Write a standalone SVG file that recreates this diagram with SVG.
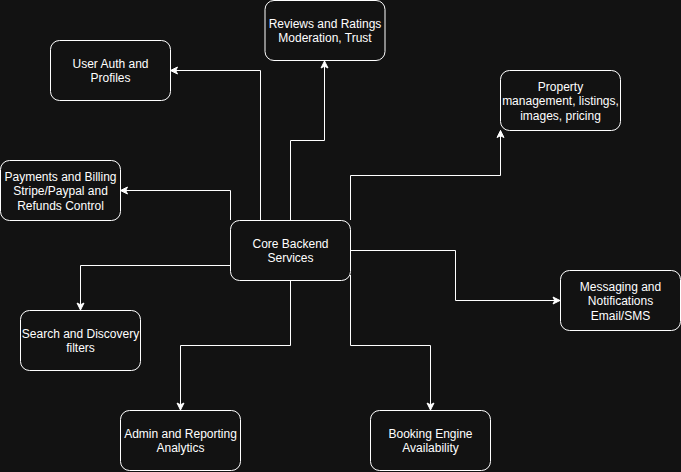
<svg xmlns="http://www.w3.org/2000/svg" width="681" height="472" viewBox="0 0 681 472">
<style>
.box{fill:#121212;stroke:#ffffff;stroke-width:1}
.lbl{font-family:"Liberation Sans",Arial,sans-serif;font-size:12px;fill:#ffffff;text-anchor:middle}
.edge{fill:none;stroke:#ffffff;stroke-width:1;marker-end:url(#arr)}
</style>
<defs>
<marker id="arr" markerUnits="userSpaceOnUse" markerWidth="10" markerHeight="10" viewBox="0 0 10 10" refX="8" refY="5" orient="auto">
<path d="M1,1.5 L8,5 L1,8.5 L2.75,5 Z" fill="#ffffff" stroke="#ffffff" stroke-width="1"/>
</marker>
</defs>
<rect x="0" y="0" width="681" height="472" fill="#121212"/>
<g id="connectors">
<path class="edge" d="M260.5,220 V70.5 H170.5"/>
<path class="edge" d="M290.5,220 V140.5 H324.5 V61"/>
<path class="edge" d="M230.5,220 V190.5 H120.5"/>
<path class="edge" d="M350.5,220 V175.5 H500.5 V130.5"/>
<path class="edge" d="M350,250.5 H455.5 V300.5 H560"/>
<path class="edge" d="M230,265.5 H80.5 V310"/>
<path class="edge" d="M290.5,280 V345.5 H180.5 V410"/>
<path class="edge" d="M350.5,275 V345.5 H430.5 V410"/>
</g>
<g id="core">
<rect class="box" x="230.5" y="220.5" width="120" height="60" rx="9"/>
<text class="lbl" x="290.5" y="247.5">Core Backend</text>
<text class="lbl" x="290.5" y="262">Services</text>
</g>
<g id="reviews">
<rect class="box" x="265" y="0.5" width="120" height="60" rx="9"/>
<text class="lbl" x="325" y="27.5">Reviews and Ratings</text>
<text class="lbl" x="325" y="42">Moderation, Trust</text>
</g>
<g id="userauth">
<rect class="box" x="50.5" y="40.5" width="120" height="60" rx="9"/>
<text class="lbl" x="110.5" y="67.5">User Auth and</text>
<text class="lbl" x="110.5" y="82">Profiles</text>
</g>
<g id="payments">
<rect class="box" x="0.5" y="160.5" width="120" height="60" rx="9"/>
<text class="lbl" x="60.5" y="180.5">Payments and Billing</text>
<text class="lbl" x="60.5" y="195">Stripe/Paypal and</text>
<text class="lbl" x="60.5" y="209.5">Refunds Control</text>
</g>
<g id="property">
<rect class="box" x="500.5" y="70.5" width="120" height="60" rx="9"/>
<text class="lbl" x="560.5" y="90.5">Property</text>
<text class="lbl" x="560.5" y="105">management, listings,</text>
<text class="lbl" x="560.5" y="119.5">images, pricing</text>
</g>
<g id="messaging">
<rect class="box" x="560.5" y="270.5" width="120" height="60" rx="9"/>
<text class="lbl" x="620.5" y="290.5">Messaging and</text>
<text class="lbl" x="620.5" y="305">Notifications</text>
<text class="lbl" x="620.5" y="319.5">Email/SMS</text>
</g>
<g id="search">
<rect class="box" x="20.5" y="310.5" width="120" height="60" rx="9"/>
<text class="lbl" x="80.5" y="337.5">Search and Discovery</text>
<text class="lbl" x="80.5" y="352">filters</text>
</g>
<g id="admin">
<rect class="box" x="120.5" y="410.5" width="120" height="60" rx="9"/>
<text class="lbl" x="180.5" y="437.5">Admin and Reporting</text>
<text class="lbl" x="180.5" y="452">Analytics</text>
</g>
<g id="booking">
<rect class="box" x="370.5" y="410.5" width="120" height="60" rx="9"/>
<text class="lbl" x="430.5" y="437.5">Booking Engine</text>
<text class="lbl" x="430.5" y="452">Availability</text>
</g>
</svg>
